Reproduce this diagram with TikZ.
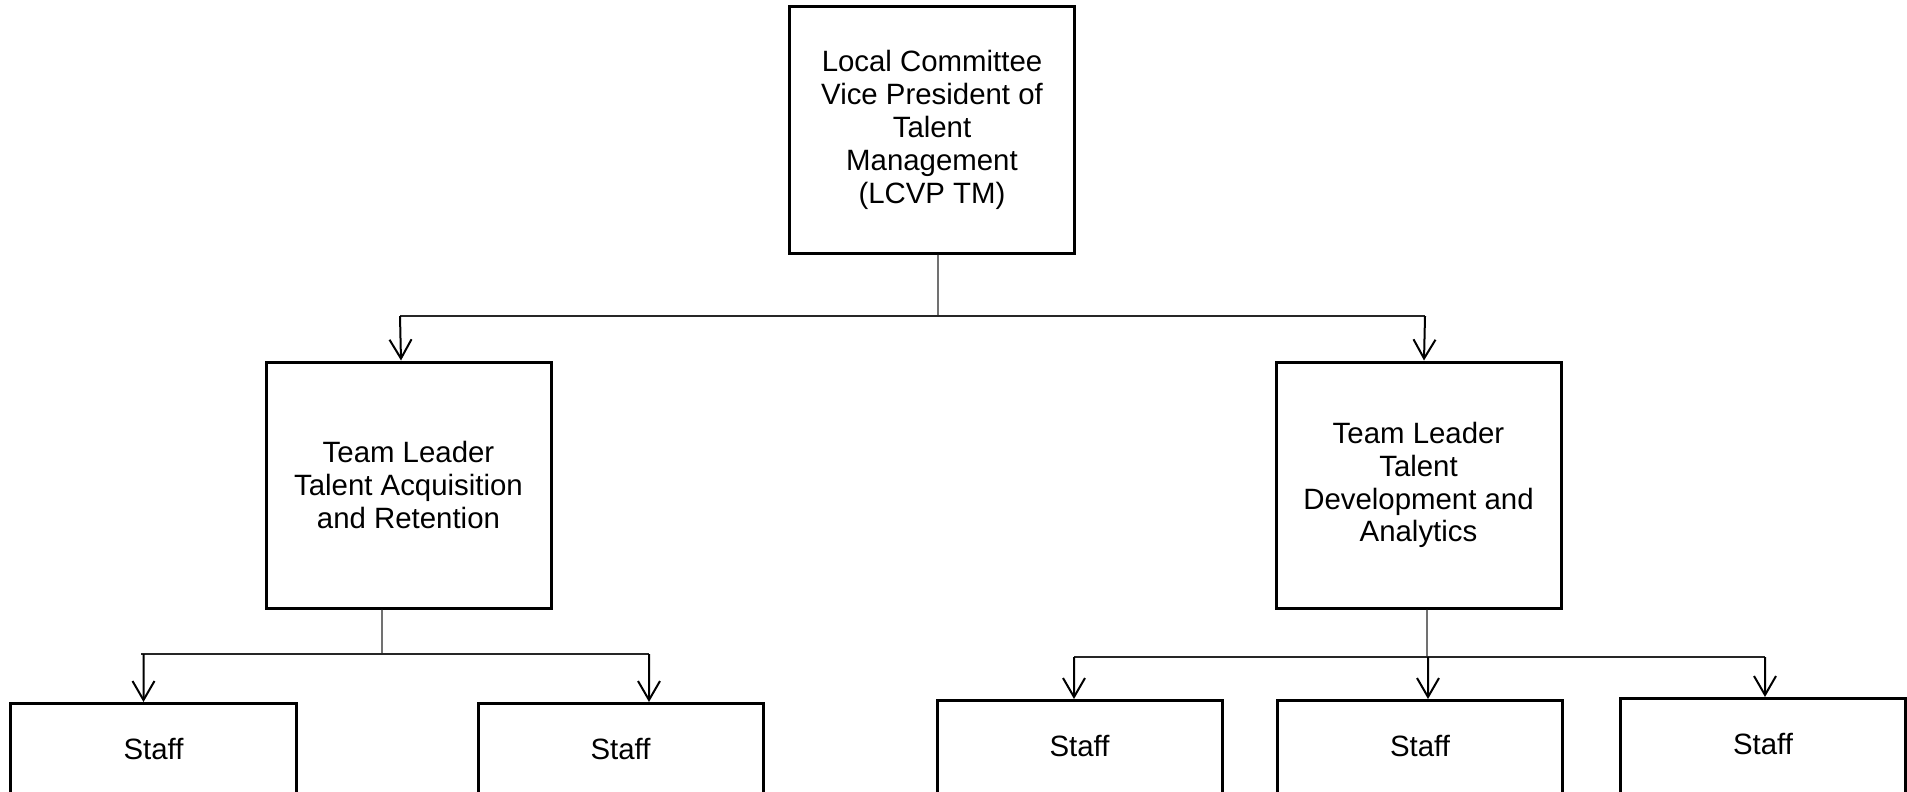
\documentclass[tikz,border=0pt]{standalone}
\usepackage{fontspec}
\setmainfont{Liberation Sans}
\usetikzlibrary{arrows.meta}
\begin{document}
\begin{tikzpicture}[x=1bp,y=-1bp,
  box/.style={draw, line width=3bp, minimum width=285bp, minimum height=246bp, align=center, inner sep=0pt, font=\fontsize{29.5}{33}\selectfont},
  staffbox/.style={draw, line width=3bp, minimum width=285bp, anchor=north, inner xsep=0pt, inner ysep=0pt, text height=56bp, text depth=200bp, font=\fontsize{29.5}{33}\selectfont},
  link/.style={line width=1.3bp, black!85},
  arr/.style={line width=2bp, -{Straight Barb[length=19bp,width=22bp,line width=2bp]}}]
\useasboundingbox (0,0) rectangle (1907,792);
\fill[white] (0,0) rectangle (1907,792);
\clip (0,0) rectangle (1907,792);

\node[box] (top) at (932,130) {Local Committee\\Vice President of\\Talent\\Management\\(LCVP TM)};
\node[box] (tl1) at (408.5,485) {Team Leader\\Talent Acquisition\\and Retention};
\node[box] (tl2) at (1418.5,485) {Team Leader\\Talent\\Development and\\Analytics};

\node[staffbox] (s1) at (153.5,702) {Staff};
\node[staffbox] (s2) at (620.5,702) {Staff};
\node[staffbox] (s3) at (1079.5,699) {Staff};
\node[staffbox] (s4) at (1420,699) {Staff};
\node[staffbox] (s5) at (1763,697) {Staff};

% level 1 connectors
\coordinate (j0) at (938,316);
\draw[link] ([xshift=6bp]top.south) -- (j0);
\draw[link] (j0) -- (400,316) coordinate (j0l);
\draw[link] (j0) -- (1425,316) coordinate (j0r);
\draw[arr] (j0l) -- ([xshift=-7.5bp]tl1.north);
\draw[arr] (j0r) -- ([xshift=5.5bp]tl2.north);

% left group
\coordinate (j1) at (382,654);
\draw[link] ([xshift=-26.5bp]tl1.south) -- (j1);
\draw[link] (141,654) coordinate (j1l) -- (649,654) coordinate (j1r);
\draw[arr] (143.5,654) -- ([xshift=-10bp]s1.north);
\draw[arr] (j1r) -- ([xshift=28.5bp]s2.north);

% right group
\coordinate (j2) at (1427,657);
\draw[link] ([xshift=8.5bp]tl2.south) -- (j2);
\draw[link] (1074,657) coordinate (j2l) -- (1765,657) coordinate (j2r);
\draw[arr] (j2l) -- ([xshift=-5.5bp]s3.north);
\draw[arr] (1428,657) -- ([xshift=8bp]s4.north);
\draw[arr] (j2r) -- ([xshift=2bp]s5.north);
\end{tikzpicture}
\end{document}
